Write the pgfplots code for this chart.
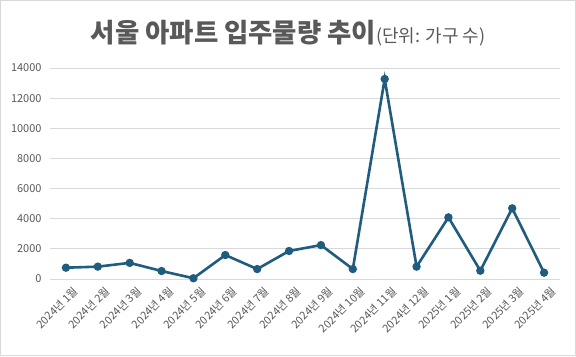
\documentclass[border=0pt]{standalone}
\usepackage{pgfplots}
\pgfplotsset{compat=1.18}
\usepackage{fontspec}
\setmainfont{Noto Sans CJK KR}
\definecolor{linec}{RGB}{31,92,126}
\definecolor{txt}{RGB}{89,89,89}
\definecolor{gridc}{RGB}{217,217,217}
\begin{document}
\begin{tikzpicture}[x=1bp,y=1bp]
\useasboundingbox (0,0) rectangle (576,356);
\fill[white] (0,0) rectangle (576,356);
\draw[gridc, line width=1.2bp] (0.6,0.6) rectangle (575.4,355.4);
\node[txt, anchor=base] at (288,314) {{\bfseries\fontsize{26.5}{31}\selectfont 서울 아파트 입주물량 추이}{\fontsize{18}{21}\selectfont (단위: 가구 수)}};
\begin{axis}[
  at={(50bp,77bp)}, anchor=south west,
  scale only axis, width=510bp, height=211bp,
  xmin=-0.5, xmax=15.5, ymin=0, ymax=14000,
  xtick={0,...,15},
  xticklabels={2024년 1월,2024년 2월,2024년 3월,2024년 4월,2024년 5월,2024년 6월,2024년 7월,2024년 8월,2024년 9월,2024년 10월,2024년 11월,2024년 12월,2025년 1월,2025년 2월,2025년 3월,2025년 4월},
  xticklabel style={rotate=45, anchor=east, font=\fontsize{11}{13}\selectfont, text=txt, inner sep=0pt, xshift=0bp, yshift=-14bp},
  ytick={0,2000,...,14000},
  yticklabel style={font=\fontsize{11}{13}\selectfont, text=txt, xshift=-5bp},
  /pgf/number format/assume math mode=true,
  scaled y ticks=false,
  y tick label style={/pgf/number format/1000 sep={}},
  ymajorgrids, grid style={gridc, line width=0.8bp},
  axis line style={draw=none},
  major tick length=0pt,
  tick style={draw=none},
  clip=false,
]
\addplot[linec, line width=2.6bp, mark=*, mark size=2.8bp, mark options={fill=linec, draw=linec}]
coordinates {(0,750) (1,820) (2,1070) (3,530) (4,50) (5,1590) (6,660) (7,1860) (8,2250) (9,660) (10,13270) (11,820) (12,4090) (13,550) (14,4690) (15,420)};
\end{axis}
\end{tikzpicture}
\end{document}
